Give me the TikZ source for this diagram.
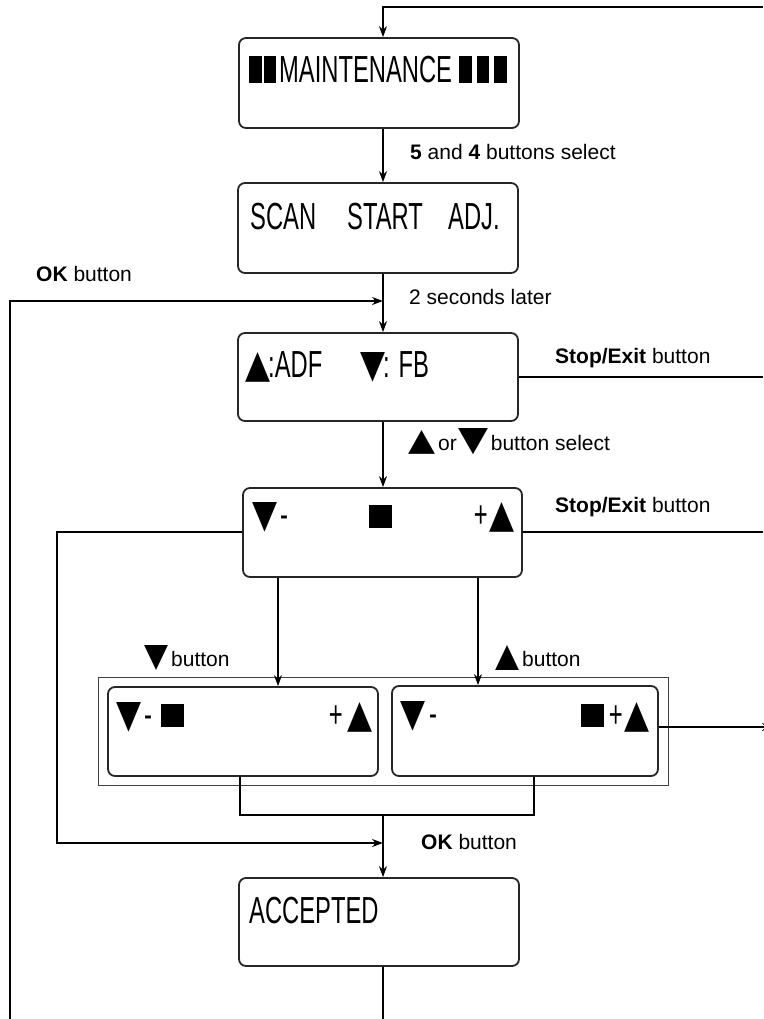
\documentclass[tikz,border=0pt]{standalone}
\usepackage{fontspec}
\usepackage{graphicx}
\setmainfont{Liberation Sans}
\newfontfamily\lcdf{Liberation Sans}[FakeStretch=0.63]
\newfontfamily\symf{DejaVu Sans}
\usetikzlibrary{arrows.meta}
\newcommand\tup{\resizebox{25pt}{25pt}{\symf ▲}}
\newcommand\tdn{\resizebox{25pt}{25pt}{\symf ▼}}
\newcommand\lup{\resizebox{27pt}{20pt}{\symf ▲}}
\newcommand\ldn{\resizebox{30pt}{22pt}{\symf ▼}}
\newcommand\sqr{\rule{23pt}{23pt}}
\newcommand\blk{\rule{12.5pt}{27pt}}
\tikzset{
  lcdbox/.style={draw=black!85, line width=1.8pt, rounded corners=7pt, inner sep=0pt},
  outerbox/.style={draw=black!75, line width=1pt, inner sep=0pt},
  lcdtxt/.style={inner sep=0pt, font=\lcdf\fontsize{37.7}{40}\selectfont},
  lbl/.style={inner sep=0pt, anchor=base west, font=\fontsize{21}{24}\selectfont},
  conn/.style={draw=black, line width=1.1pt},
  arr/.style={conn, -{Stealth[length=11pt,width=8pt]}}
}
\begin{document}
\begin{tikzpicture}[x=1pt,y=-1pt]
\useasboundingbox (0,0) rectangle (763,1019);
% guide coordinates
\coordinate (mx) at (383,0);
\coordinate (lx) at (10,0);
\coordinate (l2x) at (57,0);
\coordinate (dx1) at (278,0);
\coordinate (dx2) at (478,0);
\coordinate (bx1) at (240,0);
\coordinate (bx2) at (534,0);
\coordinate (topr) at (763,7);
\coordinate (botm) at (383,1019);
\coordinate (botl) at (10,1019);
\coordinate (okl) at (383,301);
\coordinate (okl2) at (383,843);
\coordinate (r3) at (763,377);
\coordinate (r4) at (763,532);
\coordinate (r5) at (773,727);
\coordinate (j) at (383,815);

% boxes
\node[lcdbox, minimum width=280pt, minimum height=90pt] (B1) at (379,83) {};
\node[lcdbox, minimum width=280pt, minimum height=90pt] (B2) at (378,228) {};
\node[lcdbox, minimum width=280pt, minimum height=88pt] (B3) at (378,377) {};
\node[lcdbox, minimum width=279pt, minimum height=89pt] (B4) at (382.5,532.5) {};
\node[outerbox, minimum width=570pt, minimum height=108pt] (OB) at (383,731) {};
\node[lcdbox, minimum width=270pt, minimum height=89pt] (I1) at (243,731.5) {};
\node[lcdbox, minimum width=266pt, minimum height=90pt] (I2) at (525,731) {};
\node[lcdbox, minimum width=280pt, minimum height=88pt] (AC) at (379,922) {};

% lcd texts
\node[lcdtxt, anchor=base west] (t1) at (249,83) {\blk\hspace{2pt}\blk\hspace{3pt}MAINTENANCE\hspace{7pt}\blk\hspace{5pt}\blk\hspace{5pt}\blk};
\node[lcdtxt, anchor=base west] (t2a) at (250,229) {SCAN};
\node[lcdtxt, anchor=base west] (t2b) at (347,229) {START};
\node[lcdtxt, anchor=base west] (t2c) at (448,229) {ADJ.};
\node[lcdtxt, anchor=base west] (t3a) at (245,377) {\tup\hspace{-2pt}:ADF};
\node[lcdtxt, anchor=base west] (t3b) at (360,377) {\tdn\hspace{-2pt}: FB};
\node[lcdtxt, anchor=base west] (t4a) at (252,527) {\tdn\hspace{3pt}-};
\node[lcdtxt, anchor=base west] (t4b) at (369,528) {\sqr};
\node[lcdtxt, anchor=base east] (t4c) at (515,527) {+\hspace{2pt}\tup};
\node[lcdtxt, anchor=base west] (t5a) at (116,727) {\tdn\hspace{3pt}-\hspace{9pt}\sqr};
\node[lcdtxt, anchor=base east] (t5b) at (373,727) {+\hspace{5pt}\tup};
\node[lcdtxt, anchor=base west] (t6a) at (400,726) {\tdn\hspace{4pt}-};
\node[lcdtxt, anchor=base east] (t6b) at (650,727) {\sqr\hspace{5pt}+\hspace{2pt}\tup};
\node[lcdtxt, anchor=base west] (t7) at (249,923) {ACCEPTED};

% labels
\node[lbl] (L1) at (410,160) {\textbf{5} and \textbf{4} buttons select};
\node[lbl] (L2) at (36,281) {\textbf{OK} button};
\node[lbl] (L3) at (409,304) {2 seconds later};
\node[lbl] (L4) at (555,363) {\textbf{Stop/Exit} button};
\node[lbl] (L5) at (408,450) {\lup\hspace{3pt}or\hspace{2pt}\ldn\hspace{2pt}button select};
\node[lbl] (L6) at (555,512) {\textbf{Stop/Exit} button};
\node[lbl] (L7) at (144,666) {\resizebox{24pt}{21pt}{\symf ▼}\hspace{3pt}button};
\node[lbl] (L8) at (495,666) {\resizebox{24pt}{21pt}{\symf ▲}\hspace{3pt}button};
\node[lbl] (L9) at (421,849) {\textbf{OK} button};

% connectors
\draw[arr] (topr) -| (B1.north -| mx);
\draw[arr] (B1.south -| mx) -- (B2.north -| mx);
\draw[arr] (B2.south -| mx) -- (B3.north -| mx);
\draw[arr] (botl) |- (okl);
\draw[conn] (B3.east |- r3) -- (r3);
\draw[arr] (B3.south -| mx) -- (B4.north -| mx);
\draw[conn] (B4.east |- r4) -- (r4);
\draw[arr] (B4.west |- r4) -| (l2x |- okl2) -- (okl2);
\draw[arr] (B4.south -| dx1) -- (I1.north -| dx1);
\draw[arr] (B4.south -| dx2) -- (I2.north -| dx2);
\draw[conn] (I1.south -| bx1) |- (j) -| (I2.south -| bx2);
\draw[arr] (j) -- (AC.north -| mx);
\draw[arr] (I2.east |- r5) -- (r5);
\draw[conn] (AC.south -| mx) -- (botm);
\end{tikzpicture}
\end{document}
